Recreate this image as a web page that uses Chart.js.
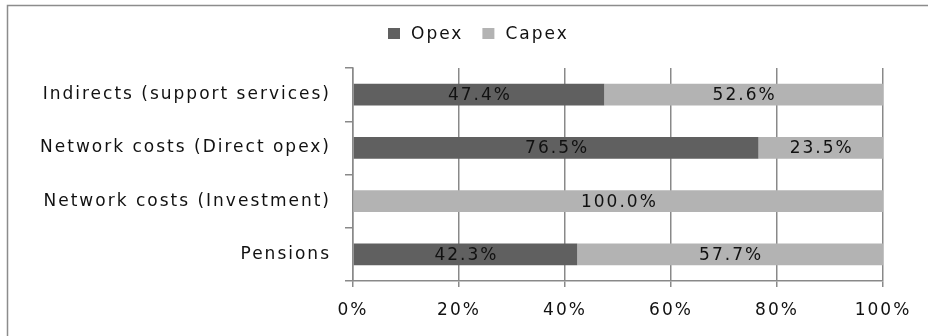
<!DOCTYPE html>
<html>
<head>
<meta charset="utf-8">
<script src="https://cdn.jsdelivr.net/npm/chart.js@4.4.0/dist/chart.umd.min.js"></script>
<style>
  html, body { margin: 0; padding: 0; background: #fff; }
  #wrap { position: relative; width: 928px; height: 336px; }
</style>
</head>
<body>
<div id="wrap"><canvas id="chart" width="928" height="336"></canvas></div>
<script>
// Chart data
const categories = ['Indirects (support services)', 'Network costs (Direct opex)', 'Network costs (Investment)', 'Pensions'];
const opexValues = [47.4, 76.5, 0, 42.3];
const capexValues = [52.6, 23.5, 100.0, 57.7];
const seriesNames = ['Opex', 'Capex'];
const xTicks = [0, 20, 40, 60, 80, 100];

const FONT = 'DejaVu Sans';
const FSIZE = 17;
const SPACING = '2px';
const TEXT = '#111';
const gridColor = '#898989';

/**
 * Spacing, white background and outer frame
 */
const framePlugin = {
    id: 'frame',
    beforeLayout(chart) {
        chart.ctx.letterSpacing = SPACING;
    },
    beforeDraw(chart) {
        const ctx = chart.ctx;
        ctx.letterSpacing = SPACING;
        ctx.save();
        ctx.fillStyle = '#fff';
        ctx.fillRect(0, 0, chart.width, chart.height);
        ctx.strokeStyle = '#8c8c8c';
        ctx.lineWidth = 1.5;
        ctx.strokeRect(7.5, 5.5, 1000, 1000);
        ctx.restore();
    }
};

/**
 * Value labels in the middle of each segment, plus the legend
 */
const labelPlugin = {
    id: 'segLabels',
    afterDatasetsDraw(chart) {
        const ctx = chart.ctx;
        ctx.save();
        ctx.letterSpacing = SPACING;
        ctx.font = FSIZE + 'px "' + FONT + '"';
        ctx.fillStyle = TEXT;
        ctx.textAlign = 'center';
        ctx.textBaseline = 'middle';
        chart.data.datasets.forEach((ds, di) => {
            const meta = chart.getDatasetMeta(di);
            meta.data.forEach((bar, i) => {
                const v = ds.data[i];
                if (!v) return;
                const p = bar.getProps(['x', 'y', 'base'], true);
                ctx.fillText(v.toFixed(1) + '%', (p.x + p.base) / 2 + 1, p.y + 1);
            });
        });

        // legend
        let x = 388;
        const y = 34;
        ctx.textAlign = 'left';
        chart.data.datasets.forEach((ds) => {
            ctx.fillStyle = ds.backgroundColor;
            ctx.fillRect(x, y - 6, 12, 11);
            ctx.fillStyle = TEXT;
            ctx.fillText(ds.label, x + 23, y + 1);
            x += 23 + ctx.measureText(ds.label).width + 19;
        });
        ctx.restore();
    }
};

const config = {
    type: 'bar',
    data: {
        labels: categories,
        datasets: [{
            label: seriesNames[0],
            data: opexValues,
            backgroundColor: '#606060',
            barPercentage: 0.413,
            categoryPercentage: 1
        }, {
            label: seriesNames[1],
            data: capexValues,
            backgroundColor: '#b3b3b3',
            barPercentage: 0.413,
            categoryPercentage: 1
        }]
    },
    options: {
        indexAxis: 'y',
        responsive: false,
        animation: false,
        layout: {
            padding: { left: 0, right: 45, top: 68, bottom: 0 }
        },
        plugins: {
            legend: { display: false },
            tooltip: { enabled: false }
        },
        scales: {
            x: {
                stacked: true,
                min: 0,
                max: 100,
                afterBuildTicks: function(axis) {
                    axis.ticks = xTicks.map(v => ({ value: v }));
                },
                afterFit: function(axis) {
                    axis.height = 55;
                },
                grid: {
                    color: gridColor,
                    lineWidth: 1.5,
                    tickLength: 6
                },
                border: { color: gridColor, width: 1.5 },
                ticks: {
                    color: TEXT,
                    padding: 13,
                    font: { family: FONT, size: FSIZE },
                    callback: function(value) {
                        return value + '%';
                    }
                }
            },
            y: {
                stacked: true,
                afterFit: function(axis) {
                    axis.width = 353;
                },
                grid: {
                    color: gridColor,
                    lineWidth: 1.5,
                    drawOnChartArea: false,
                    tickLength: 8
                },
                border: { color: gridColor, width: 1.5 },
                ticks: {
                    color: TEXT,
                    padding: 14,
                    font: { family: FONT, size: FSIZE }
                }
            }
        }
    },
    plugins: [framePlugin, labelPlugin]
};

new Chart(document.getElementById('chart'), config);
</script>
</body>
</html>
